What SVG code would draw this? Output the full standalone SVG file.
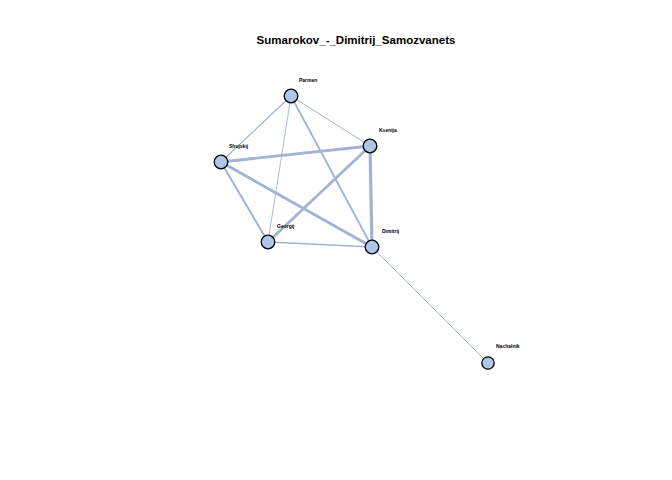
<svg xmlns="http://www.w3.org/2000/svg" width="672" height="480" viewBox="0 0 672 480">
<style>
.e{stroke:#9fb4d6;fill:none;stroke-linecap:round}
.n{fill:#aec7e8;stroke:#000;stroke-width:1.3}
.l{font-family:"Liberation Sans",Arial,sans-serif;font-size:5px;font-weight:bold;fill:#000}
.t{font-family:"Liberation Sans",Arial,sans-serif;font-size:11.5px;font-weight:bold;fill:#000}
</style>
<rect width="672" height="480" fill="#fff"/>
<text class="t" x="356" y="44" text-anchor="middle">Sumarokov_-_Dimitrij_Samozvanets</text>
<g id="edges">
<line class="e" x1="291" y1="96" x2="221" y2="162" stroke-width="1.2"/>
<line class="e" x1="291" y1="96" x2="370" y2="146" stroke-width="1" stroke="#b4c6e2"/>
<line class="e" x1="291" y1="96" x2="268" y2="242" stroke-width="0.9" stroke="#c4d3ea"/>
<line class="e" x1="291" y1="96" x2="372" y2="247" stroke-width="1.8"/>
<line class="e" x1="221" y1="162" x2="370" y2="146" stroke-width="2.8"/>
<line class="e" x1="221" y1="162" x2="268" y2="242" stroke-width="2"/>
<line class="e" x1="221" y1="162" x2="372" y2="247" stroke-width="2.8"/>
<line class="e" x1="370" y1="146" x2="268" y2="242" stroke-width="2.8"/>
<line class="e" x1="370" y1="146" x2="372" y2="247" stroke-width="3.2"/>
<line class="e" x1="268" y1="242" x2="372" y2="247" stroke-width="1.6"/>
<line class="e" x1="372" y1="247" x2="488" y2="363" stroke-width="1" stroke="#b8c9e3"/>
</g>
<g id="Parmen"><circle class="n" cx="291" cy="96" r="6.8"/><text class="l" x="299" y="82">Parmen</text></g>
<g id="Ksenija"><circle class="n" cx="370" cy="146" r="6.8"/><text class="l" x="379" y="132">Ksenija</text></g>
<g id="Shujskij"><circle class="n" cx="221" cy="162" r="6.8"/><text class="l" x="229" y="148">Shujskij</text></g>
<g id="Georgij"><circle class="n" cx="268" cy="242" r="6.8"/><text class="l" x="277" y="228">Georgij</text></g>
<g id="Dimitrij"><circle class="n" cx="372" cy="247" r="6.8"/><text class="l" x="382" y="233">Dimitrij</text></g>
<g id="Nachalnik"><circle class="n" cx="488" cy="363" r="6.2"/><text class="l" x="496" y="348">Nachalnik</text></g>
</svg>
